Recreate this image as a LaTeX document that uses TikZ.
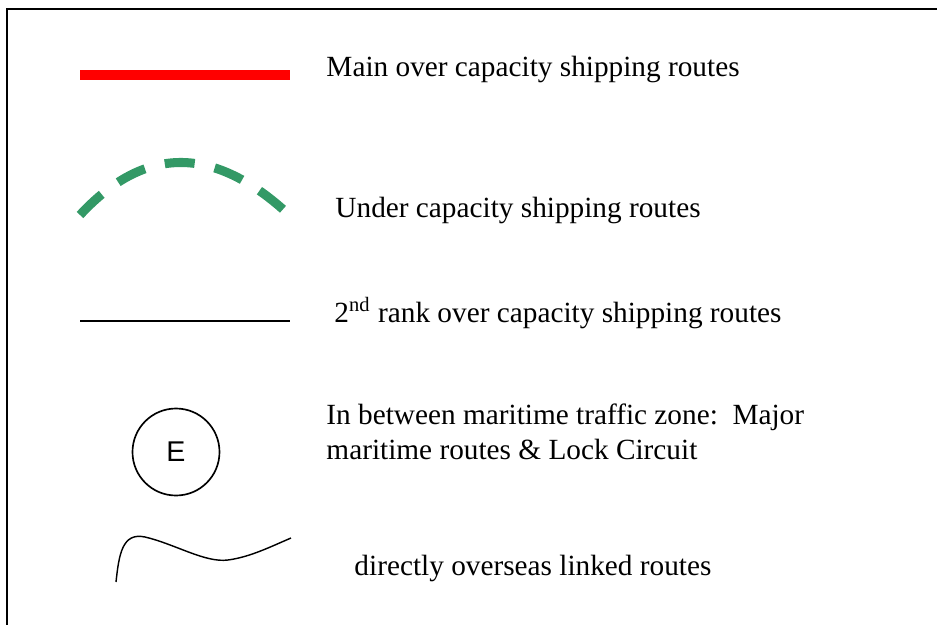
\documentclass[tikz,border=0pt]{standalone}
\usepackage{fontspec}
\setmainfont{Liberation Serif}
\newfontfamily\arialfont{Liberation Sans}
\definecolor{routegreen}{RGB}{51,153,102}
\begin{document}
\frenchspacing
\begin{tikzpicture}[x=0.42pt, y=-0.42pt, font=\fontsize{12.3}{14.3}\selectfont]
\useasboundingbox (0,0) rectangle (937,625);
\draw[line width=0.9pt] (937,9) -| (7,625);
\coordinate (red1) at (80,75);
\coordinate (red2) at (290,75);
\coordinate (green1) at (80,215);
\coordinate (green2) at (286,212);
\coordinate (thin1) at (80,321);
\coordinate (thin2) at (290,321);
\coordinate (wave1) at (116,582);
\coordinate (wave2) at (291,538);
\node[anchor=base west, inner sep=0pt] (main) at (326,76) {Main over capacity shipping routes};
\node[anchor=base west, inner sep=0pt] (under) at (335,217) {Under capacity shipping routes};
\node[anchor=base west, inner sep=0pt] (second) at (334,322) {2\textsuperscript{nd} rank over capacity shipping routes};
\node[anchor=base west, inner sep=0pt, align=left] (zone) at (326,459) {In between maritime traffic zone:\ \ Major\\maritime routes \& Lock Circuit};
\node[anchor=base west, inner sep=0pt] (direct) at (354,575) {directly overseas linked routes};
\node[shape=circle, draw=black, line width=0.7pt, minimum size=87*0.42pt, inner sep=0pt, font=\arialfont\fontsize{12}{14}\selectfont] (E) at (176,452) {E};
\draw[line width=4.6pt, draw=red] (red1) -- (red2);
\draw[line width=3.8pt, draw=routegreen, dash pattern=on 12.6pt off 8.6pt] (green1) .. controls (144,146) and (212,145) .. (green2);
\draw[line width=0.6pt] (thin1) -- (thin2);
\draw[line width=0.6pt] (wave1) .. controls (119,555) and (122,532) .. (145,537) .. controls (175,544) and (205,563) .. (228,560) .. controls (250,557) and (270,547) .. (wave2);
\end{tikzpicture}
\end{document}
